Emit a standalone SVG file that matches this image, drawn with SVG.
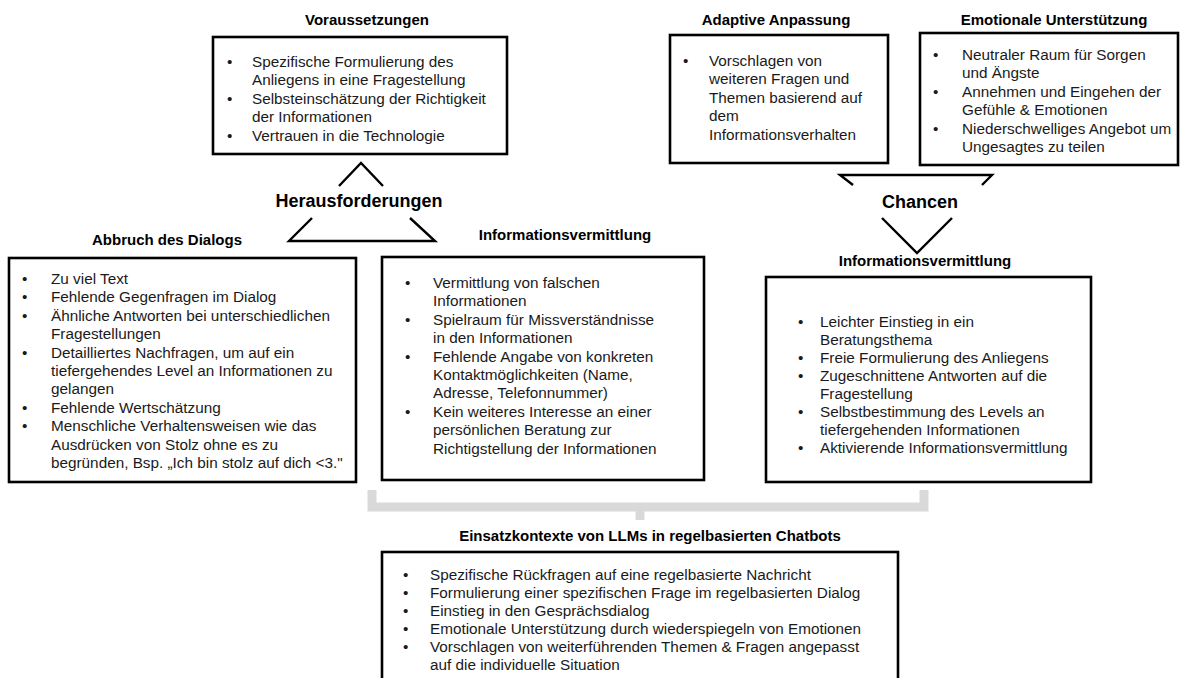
<svg xmlns="http://www.w3.org/2000/svg" width="1180" height="678" viewBox="0 0 1180 678">
<style>
.box{fill:#fff;stroke:#000;stroke-width:2.6}
.t{font-family:"Liberation Sans",Arial,sans-serif;font-size:15.3px;fill:#1a1a1a}
.h{font-family:"Liberation Sans",Arial,sans-serif;font-size:15px;font-weight:bold;fill:#000;text-anchor:middle}
.hb{font-family:"Liberation Sans",Arial,sans-serif;font-size:18px;font-weight:bold;fill:#000;text-anchor:middle}
.ln{fill:none;stroke:#000;stroke-width:2.4;stroke-linejoin:miter}
.br{fill:none;stroke:#d9d9d9;stroke-width:9}
</style>
<rect width="1180" height="678" fill="#fff"/>

<g id="connectors">
<path class="ln" d="M339,186 L361,163 L383,186"/>
<path class="ln" d="M312,218 L289,241 L435,241 L410,218"/>
<path class="ln" d="M853,185 L840,175 L992,175 L982,185"/>
<path class="ln" d="M882,218 L917,253 L952,218"/>
<path class="br" d="M372,490 V507 H924 V490 M640,507 V520"/>
</g>

<g id="herausforderungen"><text class="hb" x="359" y="207">Herausforderungen</text></g>
<g id="chancen"><text class="hb" x="920" y="208">Chancen</text></g>

<g id="voraussetzungen">
<text class="h" x="367" y="25">Voraussetzungen</text>
<rect class="box" x="213" y="37" width="294" height="117"/>
<g class="t">
<text x="227" y="67">•</text><text x="252" y="67">Spezifische Formulierung des</text>
<text x="252" y="85.4">Anliegens in eine Fragestellung</text>
<text x="227" y="103.8">•</text><text x="252" y="103.8">Selbsteinschätzung der Richtigkeit</text>
<text x="252" y="122.2">der Informationen</text>
<text x="227" y="140.6">•</text><text x="252" y="140.6">Vertrauen in die Technologie</text>
</g>
</g>

<g id="adaptive">
<text class="h" x="776" y="25">Adaptive Anpassung</text>
<rect class="box" x="670" y="35" width="218" height="128"/>
<g class="t">
<text x="683" y="66">•</text><text x="709" y="66">Vorschlagen von</text>
<text x="709" y="84.4">weiteren Fragen und</text>
<text x="709" y="102.8">Themen basierend auf</text>
<text x="709" y="121.2">dem</text>
<text x="709" y="139.6">Informationsverhalten</text>
</g>
</g>

<g id="emotional">
<text class="h" x="1054" y="25">Emotionale Unterstützung</text>
<rect class="box" x="920" y="33" width="258" height="132"/>
<g class="t">
<text x="933" y="60">•</text><text x="962" y="60">Neutraler Raum für Sorgen</text>
<text x="962" y="78.4">und Ängste</text>
<text x="933" y="96.8">•</text><text x="962" y="96.8">Annehmen und Eingehen der</text>
<text x="962" y="115.2">Gefühle &amp; Emotionen</text>
<text x="933" y="133.6">•</text><text x="962" y="133.6">Niederschwelliges Angebot um</text>
<text x="962" y="152">Ungesagtes zu teilen</text>
</g>
</g>

<g id="abbruch">
<text class="h" x="167" y="245">Abbruch des Dialogs</text>
<rect class="box" x="9" y="258" width="347" height="224"/>
<g class="t">
<text x="22" y="284">•</text><text x="51" y="284">Zu viel Text</text>
<text x="22" y="302.4">•</text><text x="51" y="302.4">Fehlende Gegenfragen im Dialog</text>
<text x="22" y="320.8">•</text><text x="51" y="320.8">Ähnliche Antworten bei unterschiedlichen</text>
<text x="51" y="339.2">Fragestellungen</text>
<text x="22" y="357.6">•</text><text x="51" y="357.6">Detailliertes Nachfragen, um auf ein</text>
<text x="51" y="376">tiefergehendes Level an Informationen zu</text>
<text x="51" y="394.4">gelangen</text>
<text x="22" y="412.8">•</text><text x="51" y="412.8">Fehlende Wertschätzung</text>
<text x="22" y="431.2">•</text><text x="51" y="431.2">Menschliche Verhaltensweisen wie das</text>
<text x="51" y="449.6">Ausdrücken von Stolz ohne es zu</text>
<text x="51" y="468">begründen, Bsp. „Ich bin stolz auf dich &lt;3."</text>
</g>
</g>

<g id="info-left">
<text class="h" x="565" y="240">Informationsvermittlung</text>
<rect class="box" x="382" y="257" width="322" height="223"/>
<g class="t">
<text x="405" y="288">•</text><text x="433" y="288">Vermittlung von falschen</text>
<text x="433" y="306.4">Informationen</text>
<text x="405" y="324.8">•</text><text x="433" y="324.8">Spielraum für Missverständnisse</text>
<text x="433" y="343.2">in den Informationen</text>
<text x="405" y="361.6">•</text><text x="433" y="361.6">Fehlende Angabe von konkreten</text>
<text x="433" y="380">Kontaktmöglichkeiten (Name,</text>
<text x="433" y="398.4">Adresse, Telefonnummer)</text>
<text x="405" y="416.8">•</text><text x="433" y="416.8">Kein weiteres Interesse an einer</text>
<text x="433" y="435.2">persönlichen Beratung zur</text>
<text x="433" y="453.6">Richtigstellung der Informationen</text>
</g>
</g>

<g id="info-right">
<text class="h" x="925" y="266">Informationsvermittlung</text>
<rect class="box" x="766" y="277" width="325" height="205"/>
<g class="t">
<text x="798" y="327">•</text><text x="820" y="327">Leichter Einstieg in ein</text>
<text x="820" y="345">Beratungsthema</text>
<text x="798" y="363">•</text><text x="820" y="363">Freie Formulierung des Anliegens</text>
<text x="798" y="381">•</text><text x="820" y="381">Zugeschnittene Antworten auf die</text>
<text x="820" y="399">Fragestellung</text>
<text x="798" y="417">•</text><text x="820" y="417">Selbstbestimmung des Levels an</text>
<text x="820" y="435">tiefergehenden Informationen</text>
<text x="798" y="453">•</text><text x="820" y="453">Aktivierende Informationsvermittlung</text>
</g>
</g>

<g id="einsatzkontexte">
<text class="h" x="650" y="541">Einsatzkontexte von LLMs in regelbasierten Chatbots</text>
<rect class="box" x="382" y="552" width="516" height="140"/>
<g class="t">
<text x="403" y="580">•</text><text x="430" y="580">Spezifische Rückfragen auf eine regelbasierte Nachricht</text>
<text x="403" y="598">•</text><text x="430" y="598">Formulierung einer spezifischen Frage im regelbasierten Dialog</text>
<text x="403" y="616">•</text><text x="430" y="616">Einstieg in den Gesprächsdialog</text>
<text x="403" y="634">•</text><text x="430" y="634">Emotionale Unterstützung durch wiederspiegeln von Emotionen</text>
<text x="403" y="652">•</text><text x="430" y="652">Vorschlagen von weiterführenden Themen &amp; Fragen angepasst</text>
<text x="430" y="670">auf die individuelle Situation</text>
</g>
</g>
</svg>
